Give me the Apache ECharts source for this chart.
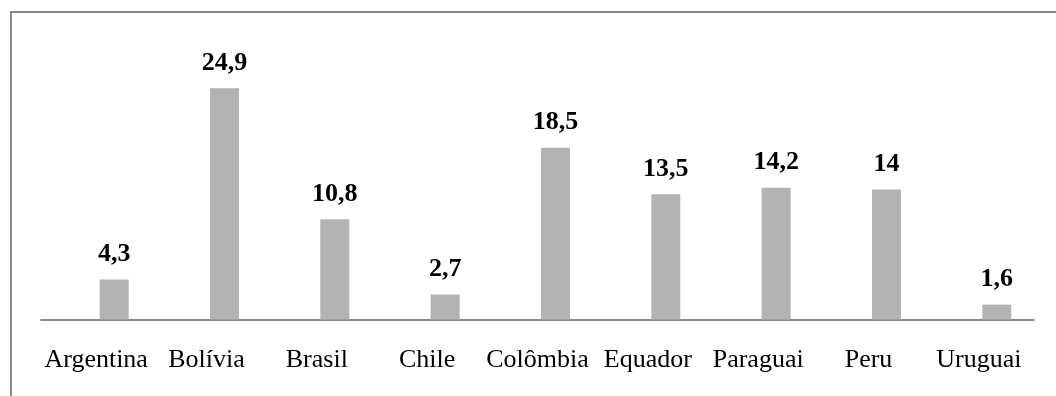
<!DOCTYPE html>
<html>
<head>
<meta charset="utf-8">
<style>
    html, body { margin: 0; padding: 0; background: #fff; }
    #frame {
        position: absolute;
        left: 10px;
        top: 11px;
        width: 1046px;
        height: 385px;
        border-top: 2px solid #898989;
        border-left: 2px solid #898989;
    }
    #chart { position: absolute; left: 0; top: 0; width: 1056px; height: 396px; }
</style>
</head>
<body>
<div id="frame"></div>
<div id="chart"></div>
<script src="https://cdn.jsdelivr.net/npm/echarts@6/dist/echarts.min.js"></script>
<script>
    var paises = ['Argentina', 'Bolívia', 'Brasil', 'Chile', 'Colômbia', 'Equador', 'Paraguai', 'Peru', 'Uruguai'];
    var valores = [4.3, 24.9, 10.8, 2.7, 18.5, 13.5, 14.2, 14, 1.6];
    // serie vazia, so ocupa o espaco ao lado das barras (como no grafico original)
    var vazio = [null, null, null, null, null, null, null, null, null];

    var myChart = echarts.init(document.getElementById('chart'));
    var option = {
        animation: false,
        grid: { left: 41, right: 22, top: 41, bottom: 76.5 },
        xAxis: {
            type: 'category',
            data: paises,
            axisLine: { lineStyle: { color: '#898989', width: 2 } },
            axisTick: { show: false },
            axisLabel: {
                interval: 0,
                margin: 28,
                color: '#000',
                fontFamily: 'Liberation Serif',
                fontSize: 26
            }
        },
        yAxis: {
            type: 'value',
            min: 0,
            max: 30,
            show: false
        },
        series: [
            {
                type: 'bar',
                data: vazio,
                barWidth: 29,
                barGap: '24%'
            },
            {
                type: 'bar',
                data: valores,
                barWidth: 29,
                itemStyle: { color: '#b3b3b3' },
                label: {
                    show: true,
                    position: 'top',
                    distance: 12,
                    color: '#000',
                    fontFamily: 'Liberation Serif',
                    fontWeight: 'bold',
                    fontSize: 26,
                    formatter: function (p) {
                        return String(p.value).replace('.', ',');
                    }
                }
            }
        ]
    };
    myChart.setOption(option);
</script>
</body>
</html>
